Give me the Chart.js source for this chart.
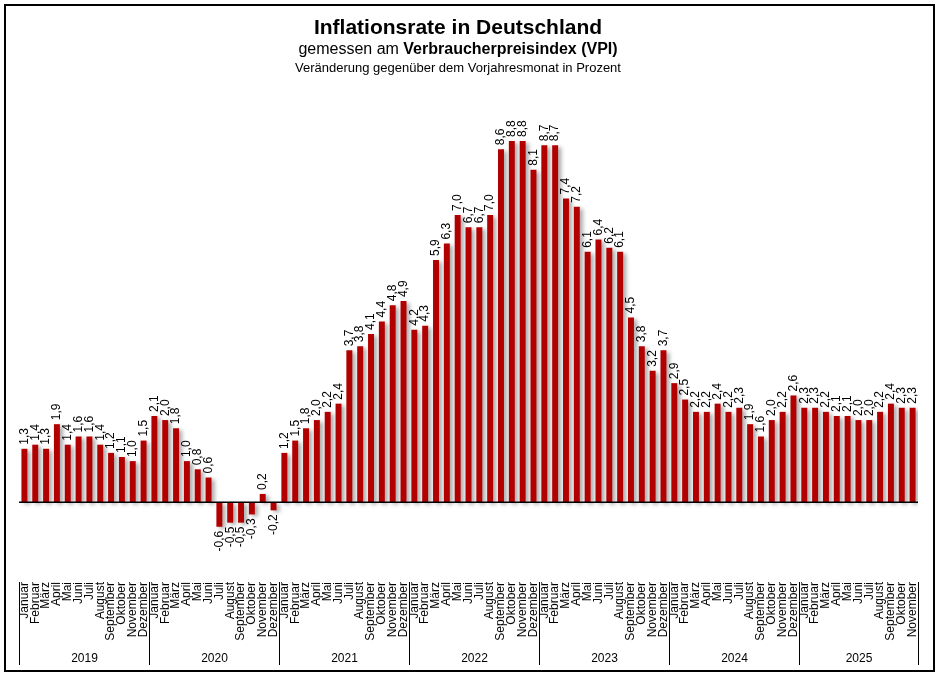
<!DOCTYPE html>
<html lang="de">
<head>
<meta charset="utf-8">
<title>Inflationsrate in Deutschland</title>
<script src="https://cdn.jsdelivr.net/npm/chart.js@4/dist/chart.umd.min.js"></script>
<style>
    body { margin: 0; background: #fff; font-family: "Liberation Sans", Arial, sans-serif; }
    #wrap { position: relative; width: 940px; height: 678px; }
    #rahmen { position: absolute; left: 4px; top: 4px; width: 927px; height: 664px; border: 2px solid #000; pointer-events: none; }
    .titel { position: absolute; left: 0; width: 916px; text-align: center; color: #000; white-space: nowrap; }
    #t1 { top: 14px; font-size: 21px; font-weight: bold; line-height: 26px; }
    #t2 { top: 39px; font-size: 16px; line-height: 19px; }
    #t3 { top: 60px; font-size: 13px; line-height: 16px; }
    canvas { position: absolute; left: 0; top: 0; }
</style>
</head>
<body>
<div id="wrap">
    <canvas id="barChart" width="940" height="678"></canvas>
    <div class="titel" id="t1">Inflationsrate in Deutschland</div>
    <div class="titel" id="t2">gemessen am <b>Verbraucherpreisindex (VPI)</b></div>
    <div class="titel" id="t3">Veränderung gegenüber dem Vorjahresmonat in Prozent</div>
    <div id="rahmen"></div>
</div>
<script>
// Daten (Veränderung gegenüber Vorjahresmonat in %)
const jahre = ["2019", "2020", "2021", "2022", "2023", "2024", "2025"];
const monate = ["Januar", "Februar", "März", "April", "Mai", "Juni", "Juli", "August", "September", "Oktober", "November", "Dezember"];

const werte2019 = [1.3, 1.4, 1.3, 1.9, 1.4, 1.6, 1.6, 1.4, 1.2, 1.1, 1.0, 1.5];
const werte2020 = [2.1, 2.0, 1.8, 1.0, 0.8, 0.6, -0.6, -0.5, -0.5, -0.3, 0.2, -0.2];
const werte2021 = [1.2, 1.5, 1.8, 2.0, 2.2, 2.4, 3.7, 3.8, 4.1, 4.4, 4.8, 4.9];
const werte2022 = [4.2, 4.3, 5.9, 6.3, 7.0, 6.7, 6.7, 7.0, 8.6, 8.8, 8.8, 8.1];
const werte2023 = [8.7, 8.7, 7.4, 7.2, 6.1, 6.4, 6.2, 6.1, 4.5, 3.8, 3.2, 3.7];
const werte2024 = [2.9, 2.5, 2.2, 2.2, 2.4, 2.2, 2.3, 1.9, 1.6, 2.0, 2.2, 2.6];
const werte2025 = [2.3, 2.3, 2.2, 2.1, 2.1, 2.0, 2.0, 2.2, 2.4, 2.3, 2.3];

const werteProJahr = [werte2019, werte2020, werte2021, werte2022, werte2023, werte2024, werte2025];

// Labels und Werte zusammenbauen
const labels = [];
const werte = [];
werteProJahr.forEach((liste) => {
    liste.forEach((v, i) => {
        labels.push(monate[i]);
        werte.push(v);
    });
});

const schrift = "'Liberation Sans', Arial, sans-serif";

// Schatten, Nulllinie, Werte und Jahresgruppen
const zusatz = {
    id: "zusatz",
    beforeDatasetsDraw(chart) {
        const ctx = chart.ctx;
        ctx.save();
        ctx.shadowColor = "rgba(0, 0, 0, 0.35)";
        ctx.shadowBlur = 4;
        ctx.shadowOffsetX = 3;
        ctx.shadowOffsetY = 2;
    },
    afterDatasetsDraw(chart) {
        const ctx = chart.ctx;
        ctx.restore();

        const { left, right } = chart.chartArea;
        const y0 = chart.scales.y.getPixelForValue(0);

        // Nulllinie
        ctx.save();
        ctx.strokeStyle = "#000";
        ctx.lineWidth = 1.5;
        ctx.beginPath();
        ctx.moveTo(left, y0);
        ctx.lineTo(right, y0);
        ctx.stroke();
        ctx.restore();

        // Werte über / unter den Säulen
        const meta = chart.getDatasetMeta(0);
        ctx.save();
        ctx.fillStyle = "#000";
        ctx.font = "12px " + schrift;
        ctx.textBaseline = "middle";
        meta.data.forEach((bar, i) => {
            const v = werte[i];
            const text = v.toFixed(1).replace(".", ",");
            ctx.save();
            ctx.translate(bar.x, bar.y);
            ctx.rotate(-Math.PI / 2);
            if (v >= 0) {
                ctx.textAlign = "left";
                ctx.fillText(text, 4, 0);
            } else {
                ctx.textAlign = "right";
                ctx.fillText(text, -4, 0);
            }
            ctx.restore();
        });
        ctx.restore();
    },
    afterDraw(chart) {
        const ctx = chart.ctx;
        const x = chart.scales.x;
        const halb = (x.getPixelForValue(1) - x.getPixelForValue(0)) / 2;

        ctx.save();
        ctx.strokeStyle = "#000";
        ctx.lineWidth = 1;
        ctx.fillStyle = "#000";
        ctx.font = "12px " + schrift;
        ctx.textAlign = "center";
        ctx.textBaseline = "middle";

        let start = 0;
        werteProJahr.forEach((liste, j) => {
            const xa = Math.round(x.getPixelForValue(start) - halb) + 0.5;
            const xe = Math.round(x.getPixelForValue(start + liste.length - 1) + halb) + 0.5;
            ctx.beginPath();
            ctx.moveTo(xa, 582);
            ctx.lineTo(xa, 665);
            if (j === werteProJahr.length - 1) {
                ctx.moveTo(xe, 582);
                ctx.lineTo(xe, 665);
            }
            ctx.stroke();
            ctx.fillText(jahre[j], (xa + xe) / 2, 659);
            start += liste.length;
        });
        ctx.restore();
    },
};

const chart = new Chart(document.getElementById("barChart").getContext("2d"), {
    type: "bar",
    data: {
        labels: labels,
        datasets: [
            {
                label: "VPI",
                data: werte,
                backgroundColor: "#b20000",
                borderWidth: 0,
                barPercentage: 0.55,
                categoryPercentage: 1,
            },
        ],
    },
    options: {
        responsive: false,
        animation: false,
        devicePixelRatio: 1,
        layout: {
            padding: { left: 19, right: 22, top: 100, bottom: 0 },
        },
        plugins: {
            legend: { display: false },
            tooltip: { enabled: false },
            title: { display: false },
        },
        scales: {
            x: {
                grid: { display: false, drawTicks: false },
                border: { display: false },
                ticks: {
                    autoSkip: false,
                    minRotation: 90,
                    maxRotation: 90,
                    padding: 6,
                    color: "#000",
                    font: { size: 12, family: schrift },
                },
                afterFit: (scale) => {
                    scale.height = 102;
                },
            },
            y: {
                display: false,
                min: -1.8,
                max: 9.8,
            },
        },
    },
    plugins: [zusatz],
});
</script>
</body>
</html>
